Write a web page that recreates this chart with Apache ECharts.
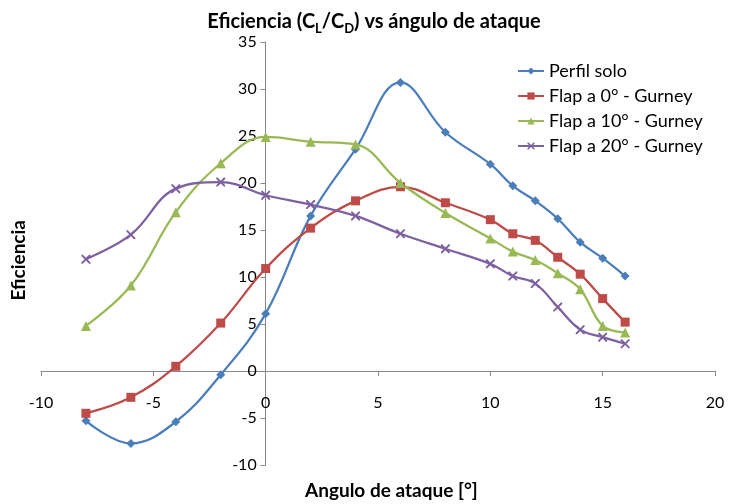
<!DOCTYPE html>
<html><head><meta charset="utf-8">
<script src="https://cdn.jsdelivr.net/npm/echarts@6/dist/echarts.min.js"></script>
<style>html,body{margin:0;padding:0;background:#fff}#c{width:729px;height:504px}</style>
</head><body><div id="c"></div>
<script>
const angles = [-8,-6,-4,-2,0,2,4,6,8,10,11,12,13,14,15,16];
const perfilSolo = [-5.3,-7.7,-5.4,-0.4,6.1,16.5,23.6,30.7,25.4,22.0,19.7,18.1,16.2,13.7,12.0,10.1];
const flap0 = [-4.5,-2.8,0.5,5.1,10.9,15.2,18.1,19.6,17.9,16.1,14.6,13.9,12.1,10.3,7.7,5.2];
const flap10 = [4.8,9.1,16.9,22.1,24.9,24.4,24.1,20.0,16.8,14.1,12.7,11.8,10.4,8.7,4.8,4.1];
const flap20 = [11.9,14.5,19.4,20.1,18.7,17.7,16.5,14.6,13.0,11.4,10.1,9.3,6.8,4.4,3.6,2.9];
const seriesNames = ['Perfil solo','Flap a 0° - Gurney','Flap a 10° - Gurney','Flap a 20° - Gurney'];
const xTicks = {min:-10,max:20,interval:5};
const yTicks = {min:-10,max:35,interval:5};

const FONT = 'Lato';
const colors = ['#4A7EBB','#BE4B48','#98B954','#7D60A0'];
const xPath = 'path://M0,0L1.5,0L5,3.5L8.5,0L10,0L10,1.5L6.5,5L10,8.5L10,10L8.5,10L5,6.5L1.5,10L0,10L0,8.5L3.5,5L0,1.5Z';
const symbols = ['diamond','rect','triangle',xPath];
const symSizes = [9,9,10,9];
const all = [perfilSolo,flap0,flap10,flap20];

const W = 729, H = 504;
const grid = {left:41,right:14,top:42,bottom:39};
const gridW = W - grid.left - grid.right;
const gridH = H - grid.top - grid.bottom;
// axes cross at zero: shift each axis inward from the grid edge
const yAxisOffset = -gridW * (0 - xTicks.min) / (xTicks.max - xTicks.min);
const xAxisOffset = -gridH * (0 - yTicks.min) / (yTicks.max - yTicks.min);

const chart = echarts.init(document.getElementById('c'));
chart.setOption({
  animation:false,
  backgroundColor:'#fff',
  color:colors,
  title:{
    text:'{b|Eficiencia (C}{s|L}{b|/C}{s|D}{b|) vs ángulo de ataque}',
    left:369, top:4, textAlign:'center',
    textStyle:{rich:{
      b:{fontFamily:FONT,fontWeight:'bold',fontSize:20,color:'#000',lineHeight:26},
      s:{fontFamily:FONT,fontWeight:'bold',fontSize:13,color:'#000',lineHeight:26,verticalAlign:'bottom',padding:[9,0,0,0]}
    }}
  },
  legend:{
    orient:'vertical', left:512, top:57, itemGap:7, itemWidth:26, itemHeight:9,
    textStyle:{fontFamily:FONT,fontSize:18,color:'#000'},
    data:seriesNames
  },
  grid:Object.assign({containLabel:false},grid),
  xAxis:{
    type:'value', min:xTicks.min, max:xTicks.max, interval:xTicks.interval,
    position:'bottom', offset:xAxisOffset,
    splitLine:{show:false},
    axisLine:{show:true,onZero:false,lineStyle:{color:'#888',width:1}},
    axisTick:{show:true,length:5,lineStyle:{color:'#888'}},
    axisLabel:{margin:24,fontFamily:FONT,fontSize:16,color:'#000'}
  },
  yAxis:{
    type:'value', min:yTicks.min, max:yTicks.max, interval:yTicks.interval,
    position:'left', offset:yAxisOffset,
    splitLine:{show:false},
    axisLine:{show:true,onZero:false,lineStyle:{color:'#888',width:1}},
    axisTick:{show:true,length:5,lineStyle:{color:'#888'}},
    axisLabel:{margin:9,fontFamily:FONT,fontSize:16,color:'#000'}
  },
  graphic:[
    {type:'text',left:9,top:220,rotation:Math.PI/2,
     style:{text:'Eficiencia',fontFamily:FONT,fontWeight:'bold',fontSize:19,fill:'#000'}},
    {type:'text',left:305,top:481,
     style:{text:'Angulo de ataque [°]',fontFamily:FONT,fontWeight:'bold',fontSize:19,fill:'#000'}}
  ],
  series: all.map((vals,i)=>({
    name:seriesNames[i], type:'line', smooth:0.4,
    symbol:symbols[i], symbolSize:symSizes[i], showSymbol:true,
    lineStyle:{width:2.25,color:colors[i]},
    itemStyle:{color:colors[i]},
    data: angles.map((a,j)=>[a,vals[j]])
  }))
});
</script></body></html>
